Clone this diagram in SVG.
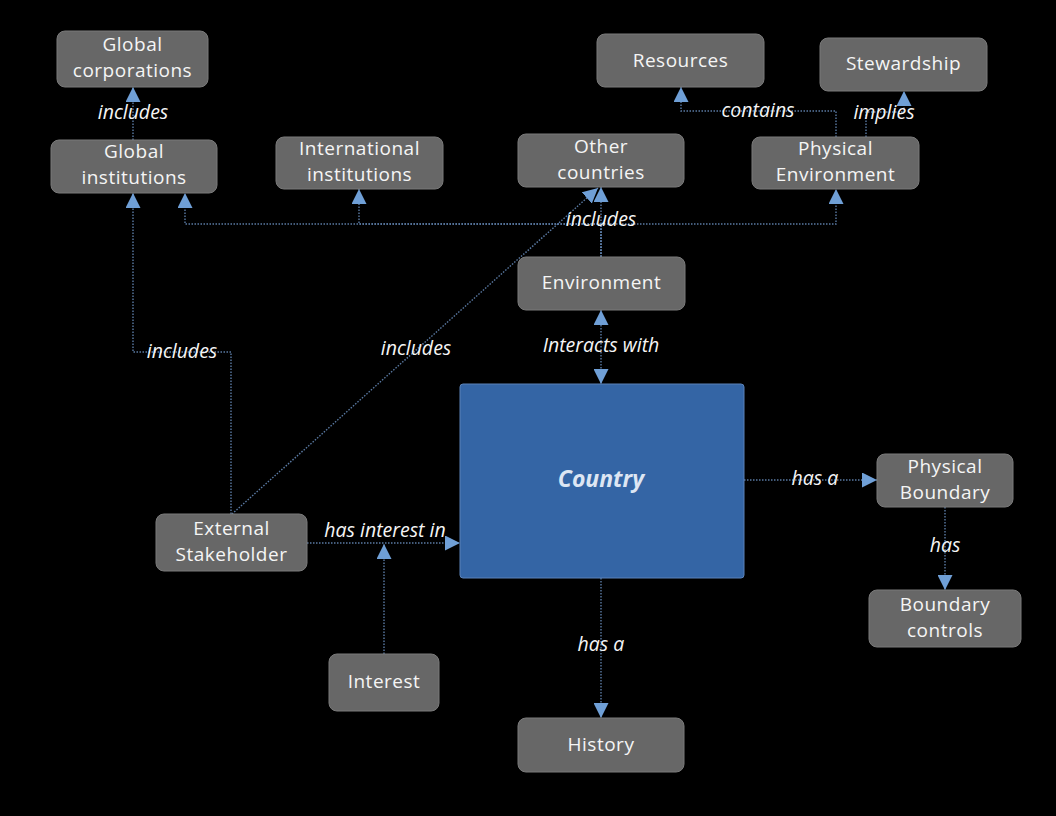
<svg xmlns="http://www.w3.org/2000/svg" width="1056" height="816" viewBox="0 0 1056 816">
<defs>
<marker id="arr" markerUnits="userSpaceOnUse" markerWidth="15" markerHeight="15" viewBox="0 0 14 14" refX="14" refY="7" orient="auto-start-reverse">
<path d="M0,0 L14,7 L0,14 z" fill="#6f9fd6"/>
</marker>
<style>
.node rect{fill:#676767;stroke:#7a7a7a;stroke-width:1}
.node text{font-family:"Open Sans","Noto Sans",sans-serif;font-size:19px;letter-spacing:0.5px;fill:#f5f5f5;text-anchor:middle}
.conn path{fill:none;stroke:#5a7aa3;stroke-width:1.4;stroke-dasharray:1.5 1.5}
.lbl{font-family:"Open Sans","Noto Sans",sans-serif;font-size:19.5px;font-style:italic;fill:#f5f5f5;text-anchor:middle}
</style>
</defs>
<rect width="1056" height="816" fill="#000"/>

<g id="connectors" class="conn">
<path d="M133,140 V87" marker-end="url(#arr)"/>
<path d="M231,514 V352 H133 V193" marker-end="url(#arr)"/>
<path d="M601,257 V224 H185 V193" marker-end="url(#arr)"/>
<path d="M601,257 V224 H359 V189" marker-end="url(#arr)"/>
<path d="M601,257 V187" marker-end="url(#arr)"/>
<path d="M601,257 V224 H836 V189" marker-end="url(#arr)"/>
<path d="M232,514 L598,188" marker-end="url(#arr)"/>
<path d="M836,137 V111 H681 V87" marker-end="url(#arr)"/>
<path d="M866,137 V112 H904 V91" marker-end="url(#arr)"/>
<path d="M601,310 V384" marker-start="url(#arr)" marker-end="url(#arr)"/>
<path d="M744,480 H877" marker-end="url(#arr)"/>
<path d="M945,507 V590" marker-end="url(#arr)"/>
<path d="M601,578 V718" marker-end="url(#arr)"/>
<path d="M307,543 H460" marker-end="url(#arr)"/>
<path d="M384,654 V544" marker-end="url(#arr)"/>
</g>

<g id="labels">
<text class="lbl" x="133" y="119">includes</text>
<text class="lbl" x="182" y="358">includes</text>
<text class="lbl" x="601" y="226">includes</text>
<text class="lbl" x="416" y="355">includes</text>
<text class="lbl" x="758" y="117">contains</text>
<text class="lbl" x="884" y="119">implies</text>
<text class="lbl" x="601" y="352">Interacts with</text>
<text class="lbl" x="815" y="485">has a</text>
<text class="lbl" x="945" y="552">has</text>
<text class="lbl" x="601" y="651">has a</text>
<text class="lbl" x="385" y="537">has interest in</text>
</g>

<g id="global-corporations" class="node"><rect x="57" y="31" width="151" height="56" rx="8"/><text><tspan x="132.5" y="51">Global</tspan><tspan x="132.5" y="77">corporations</tspan></text></g>
<g id="global-institutions" class="node"><rect x="51" y="140" width="166" height="53" rx="8"/><text><tspan x="134" y="158">Global</tspan><tspan x="134" y="184">institutions</tspan></text></g>
<g id="international-institutions" class="node"><rect x="276" y="137" width="167" height="52" rx="8"/><text><tspan x="359.5" y="155">International</tspan><tspan x="359.5" y="181">institutions</tspan></text></g>
<g id="other-countries" class="node"><rect x="518" y="134" width="166" height="53" rx="8"/><text><tspan x="601" y="153">Other</tspan><tspan x="601" y="179">countries</tspan></text></g>
<g id="resources" class="node"><rect x="597" y="34" width="167" height="53" rx="8"/><text x="680.5" y="67">Resources</text></g>
<g id="stewardship" class="node"><rect x="820" y="38" width="167" height="53" rx="8"/><text x="903.5" y="70">Stewardship</text></g>
<g id="physical-environment" class="node"><rect x="752" y="137" width="167" height="52" rx="8"/><text><tspan x="835.5" y="155">Physical</tspan><tspan x="835.5" y="181">Environment</tspan></text></g>
<g id="environment" class="node"><rect x="518" y="257" width="167" height="53" rx="8"/><text x="601.5" y="289">Environment</text></g>
<g id="country"><rect x="460" y="384" width="284" height="194" rx="3" fill="#3465a5" stroke="#5a82b8" stroke-width="1"/><text x="601" y="487" font-family="'Open Sans','Noto Sans',sans-serif" font-size="23" font-weight="bold" font-style="italic" fill="#dde6f3" text-anchor="middle">Country</text></g>
<g id="physical-boundary" class="node"><rect x="877" y="454" width="136" height="53" rx="8"/><text><tspan x="945" y="473">Physical</tspan><tspan x="945" y="499">Boundary</tspan></text></g>
<g id="boundary-controls" class="node"><rect x="869" y="590" width="152" height="57" rx="8"/><text><tspan x="945" y="611">Boundary</tspan><tspan x="945" y="637">controls</tspan></text></g>
<g id="external-stakeholder" class="node"><rect x="156" y="514" width="151" height="57" rx="8"/><text><tspan x="231.5" y="535">External</tspan><tspan x="231.5" y="561">Stakeholder</tspan></text></g>
<g id="interest" class="node"><rect x="329" y="654" width="110" height="57" rx="8"/><text x="384" y="688">Interest</text></g>
<g id="history" class="node"><rect x="518" y="718" width="166" height="54" rx="8"/><text x="601" y="751">History</text></g>
</svg>
